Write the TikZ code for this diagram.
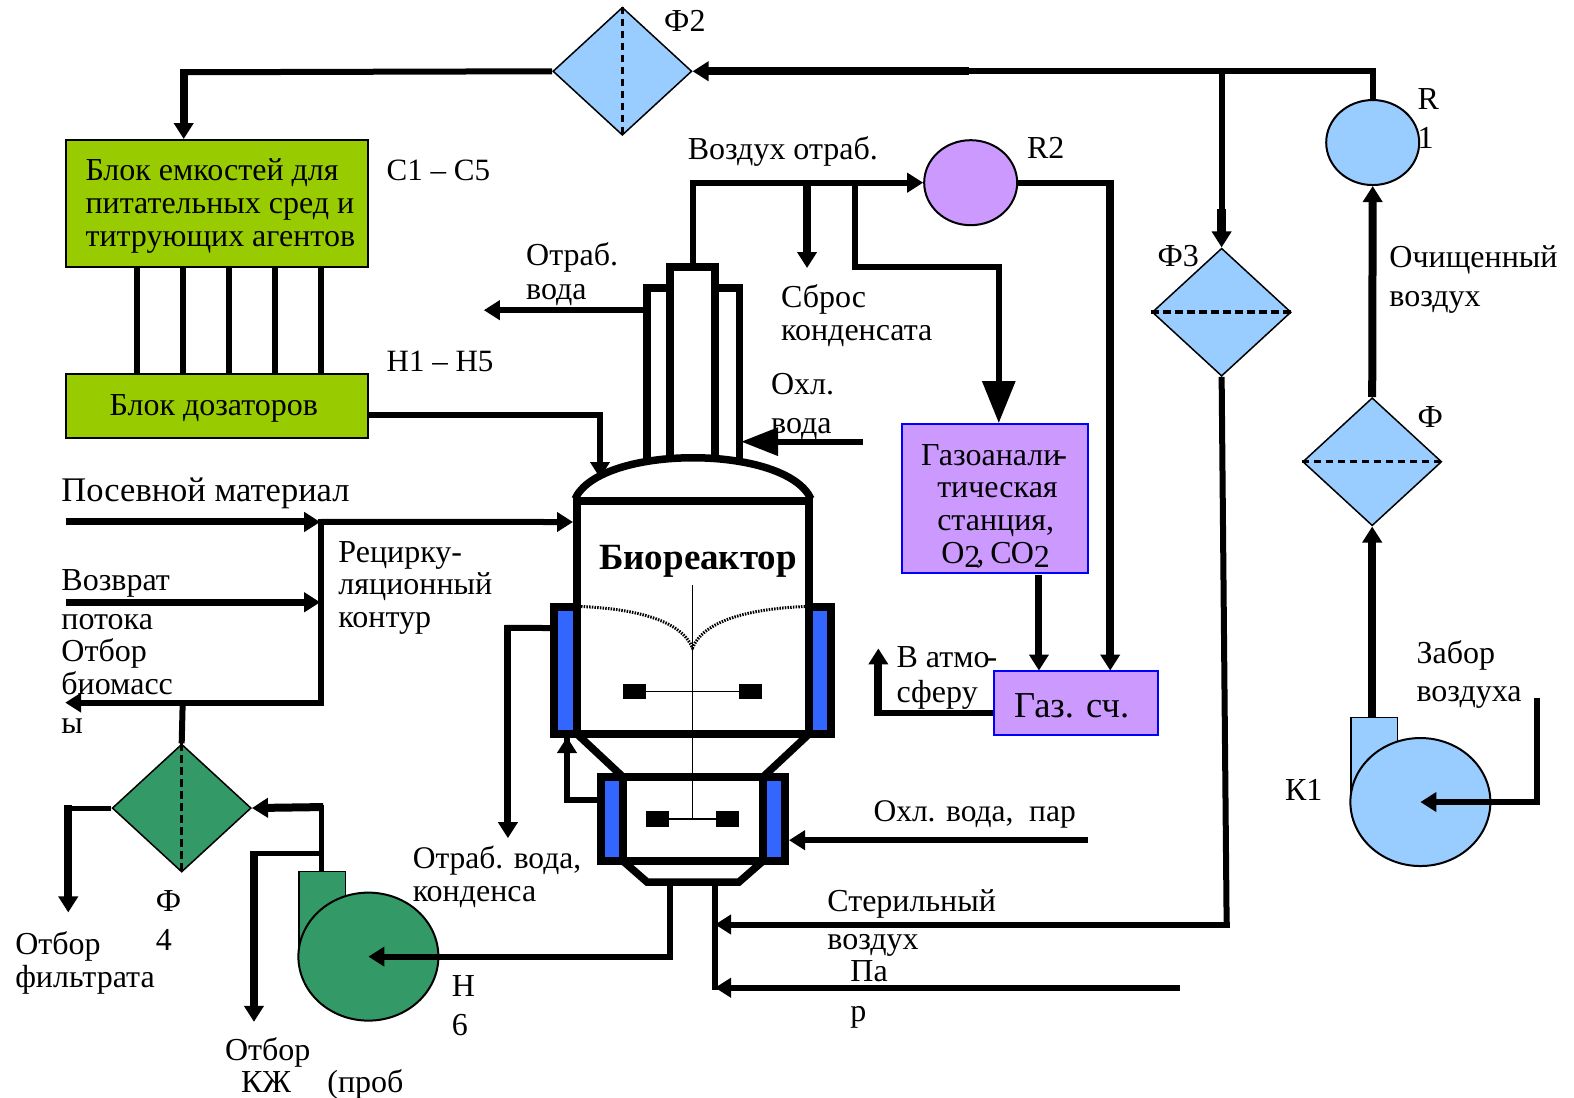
\documentclass[tikz,border=0pt]{standalone}
\usepackage{fontspec}
\setmainfont{Liberation Serif}
\usetikzlibrary{arrows.meta,shapes.geometric,calc}
\definecolor{filt}{HTML}{99CCFF}
\definecolor{grn}{HTML}{339966}
\definecolor{lime}{HTML}{99CC00}
\definecolor{purp}{HTML}{CC99FF}
\definecolor{jack}{HTML}{3366FF}
\tikzset{
 dia/.style={diamond,draw=black,line width=1.5pt,minimum width=139pt,minimum height=128pt,inner sep=0pt,aspect=1.1},
 orb/.style={ellipse,draw=black,line width=2pt,inner sep=0pt},
 pipe/.style={line width=6pt},
 fatpipe/.style={line width=8pt},
 tip/.style={-{Triangle[width=19pt,length=16pt]}},
 bigtip/.style={-{Triangle[width=32pt,length=42pt]}},
 sep/.style={line width=3.5pt,dash pattern=on 7.5pt off 4.5pt},
 lab/.style={anchor=base west,inner sep=0pt,font=\fontsize{32}{33}\selectfont},
 sbox/.style={draw=black,line width=2pt,fill=lime,inner sep=0pt,anchor=north west},
 gbox/.style={draw=blue,line width=2pt,fill=purp,inner sep=0pt,anchor=north west},
 wall/.style={line width=7.5pt,line cap=butt,line join=miter},
 jacket/.style={draw=black,line width=7.5pt,fill=jack},
 blade/.style={fill=black,draw=none},
 shaft/.style={line width=1.6pt},
}
\newcommand{\subtwo}{\raisebox{-4pt}{2}}
\begin{document}
\begin{tikzpicture}[x=1.0038pt,y=-1.0038pt]
\useasboundingbox (0,0) rectangle (1568.04,1093.84);
% ---- equipment
\node[dia,fill=filt] (F2) at (620,71) {};
\node[dia,fill=filt] (F3) at (1217,311) {};
\node[dia,fill=filt] (F1) at (1367,460) {};
\node[dia,fill=grn] (F4) at (181,805) {};
\draw[sep] (F2.north)--(F2.south);
\draw[sep] (F3.west)--(F3.east);
\draw[sep] (F1.west)--(F1.east);
\draw[sep] (F4.north)--(F4.south);
\node[orb,fill=purp,minimum width=93pt,minimum height=85pt] (R2) at (967,182) {};
\node[orb,fill=filt,minimum width=93pt,minimum height=85pt] (R1) at (1367.5,142) {};
\node[sbox,minimum width=302pt,minimum height=127pt] (tanks) at (65.2,138.5) {};
\node[sbox,minimum width=302pt,minimum height=64pt] (dos) at (65.2,371.5) {};
\node[gbox,minimum width=186pt,minimum height=149pt] (gas) at (897.3,421.5) {};
\node[gbox,minimum width=164pt,minimum height=64pt] (cnt) at (989,667) {};
% pumps
\draw[fill=filt,line width=1.5pt] (1346,715) rectangle (1392,800);
\node[orb,fill=filt,minimum width=140pt,minimum height=128pt] (K1) at (1415,799) {};
\draw[fill=grn,line width=1.5pt] (298,868) rectangle (344,953);
\node[orb,fill=grn,minimum width=140pt,minimum height=128pt] (H6) at (367,953) {};
\coordinate (K1duct) at (1367,715);
\coordinate (H6duct) at (320,868);
% ---- reactor (true pixel coordinates)
\begin{scope}[x=1pt,y=-1pt]
\draw[jacket] (554,607) rectangle (577,734);
\draw[jacket] (809,607) rectangle (831,734);
\draw[jacket] (601,777) rectangle (623,861);
\draw[jacket] (763,777) rectangle (785,861);
\draw[wall] (647,460) |- (670,288) (715,288) -| (739.5,460);
\draw[wall] (670,460) |- (692,267) -| (715,460);
\draw[wall] (577,501) rectangle (809,734);
\draw[wall] (623,777) -- (763,777);
\draw[wall] (623,861) -- (763,861);
\draw[wall] (577,734) -- (623,777);
\draw[wall] (809,734) -- (763,777);
\draw[wall] (623,861) -- (647,882) -- (739,882) -- (763,861);
\draw[wall] (575,499) .. controls (600,444) and (786,444) .. (811,499);
\coordinate (reactorL) at (573,522);
\coordinate (domeL) at (600,478);
\coordinate (jacketLT) at (550,628);
\coordinate (jacketLB) at (567,737);
\coordinate (jacketLL) at (597,800);
\coordinate (jacketRL) at (789,840);
\coordinate (condR) at (741,442);
\coordinate (condL) at (643,310);
\coordinate (condT) at (693,265);
\coordinate (pipeA) at (670,884);
\coordinate (pipeB) at (715,884);
% agitator
\draw[shaft] (692.5,585) -- (692.5,819);
\draw[shaft] (635,691.5) -- (750,691.5);
\draw[shaft] (657,819) -- (727,819);
\fill[blade] (623,684) rectangle (646,699);
\fill[blade] (739,684) rectangle (762,699);
\fill[blade] (646,811) rectangle (669,827);
\fill[blade] (716,811) rectangle (739,827);
\draw[line width=3pt,dash pattern=on 1.5pt off 1.2pt] (581,606.5) .. controls (640,609) and (682,622) .. (692.5,648) .. controls (703,622) and (745,609) .. (805,606.5);
\end{scope}
% ---- connectors
\draw[pipe] (R1.north) |- (965,71);
\draw[fatpipe,tip] (965,71) -- (F2.east);
\draw[pipe] (1217,71) -- (1217,208);
\draw[line width=9pt,tip] (1217,208) -- (F3.north);
\draw[pipe] (F2.west) -- (180,72);
\draw[fatpipe,tip] (183,69) -- (tanks.north -| 183,0);
\draw[pipe] (F3.south) -- (1222,921);
\draw[pipe,tip] (1225,921) -- (pipeB |- 0,921);
\draw[fatpipe,tip] (F1.north) -- (R1.south);
\draw[fatpipe,tip] (K1duct) -- (F1.south);
\coordinate (intake) at (1531,695);
\draw[pipe] (intake) -- (1531,802);
\draw[pipe,tip] (1531,799) -- (K1.center);
\foreach \x in {136,182,228,274,320} \draw[pipe] (\x,266) -- (\x,372);
\draw[pipe,tip] (dos.east |- 0,413) -| (domeL);
\coordinate (seed) at (66,520);
\coordinate (ret) at (66,600);
\draw[pipe,tip] (320,520) -- (reactorL);
\draw[line width=7pt,tip] (seed) -- (319,520);
\draw[line width=7pt,tip] (ret) -- (319,600);
\draw[pipe] (320,517) -- (320,700);
\draw[pipe,tip] (323,700) -- (65,700);
\draw[pipe] (182,700) -- (F4.north);
\coordinate (filtr) at (68,909);
\draw[line width=5pt] (F4.west) -- (66,805);
\draw[fatpipe,tip] (68,802) -- (filtr);
\draw[line width=5pt] (H6duct) -- (320,802);
\draw[fatpipe,tip] (322,804) -- (F4.east);
\coordinate (sample) at (253,1018);
\draw[line width=5pt] (320,850) -- (250,850);
\draw[line width=7.5pt,tip] (253,848) -- (sample);
\draw[pipe] (pipeA) -- (pipeA |- H6.center);
\draw[pipe,tip] ($(pipeA |- H6.center)+(3,0)$) -- (H6.center);
\draw[pipe] (pipeB) -- (pipeB |- 0,986);
\coordinate (steam) at (1176,984);
\draw[pipe,tip] (steam) -- (pipeB |- steam);
\coordinate (cool) at (1084,837);
\draw[pipe,tip] (cool) -- (jacketRL |- cool);
\coordinate (cool2) at (860,440);
\draw[pipe,-{Triangle[width=27pt,length=37pt]}] (cool2) -- (condR |- cool2);
\coordinate (wasteW) at (482,309);
\draw[pipe,tip] (condL |- wasteW) -- (wasteW);
\draw[pipe,line join=miter] (condT) |- (880,182);
\draw[pipe,tip] (870,182) -- (R2.west);
\coordinate (dropC) at (804,267);
\draw[fatpipe,tip] (804,182) -- (dropC);
\draw[pipe] (852,182) |- (998,266);
\draw[pipe,bigtip] (995,263) -- (gas.north -| 995,0);
\draw[pipe] (R2.east) -- (1109,182);
\draw[fatpipe,tip] (1106,179) -- (1106,668);
\draw[line width=7pt,tip] (1035,573) -- (1035,668);
\coordinate (atm) at (875,646);
\draw[pipe] (cnt.west |- 0,710) -- (872,710);
\draw[fatpipe,tip] (875,713) -- (atm);
\draw[pipe] (jacketLT) -- (503,625.6);
\draw[line width=7pt,tip] (506,622.6) -- (506,835);
\draw[pipe] (jacketLL) -| (jacketLB);
\draw[pipe,tip] (jacketLL -| jacketLB) -- (jacketLB);
% ---- labels
\begin{scope}[xshift=-1pt]
\node[lab] at (662.5,31) {Ф2};
\node[lab] at (686,159) {Воздух отраб.};
\node[lab] at (1024,158) {R2};
\node[lab] at (1413,109) {R};
\node[lab] at (1413,148) {1};
\node[lab] at (86,180) {Блок емкостей для};
\node[lab] at (86,213) {питательных сред и};
\node[lab] at (86,246) {титрующих агентов};
\node[lab,font=\fontsize{31}{33}\selectfont] at (386,180) {С1 – С5};
\node[lab,font=\fontsize{31}{33}\selectfont] at (386,370) {Н1 – Н5};
\node[lab] at (110,414) {Блок дозаторов};
\node[lab] at (525,264) {Отраб.};
\node[lab] at (525,298) {вода};
\node[lab] at (779,306) {Сброс};
\node[lab] at (779,339) {конденсата};
\node[lab] at (769,393) {Охл.};
\node[lab] at (769,432) {вода};
\node[lab] at (1154,265) {Ф3};
\node[lab] at (1385,266) {Очищенный};
\node[lab] at (1385,305) {воздух};
\node[lab] at (1413,426) {Ф};
\node[lab] at (918.5,464) {Газоанали\kern-4pt-};
\node[lab] at (934.5,496) {тическая};
\node[lab] at (934.5,528) {станция,};
\node[lab] at (938.5,561) {O\subtwo\kern-4pt,\kern-2pt{} C\kern-1pt O\subtwo};
\node[lab,font=\fontsize{34.5}{36}\selectfont] at (62,500) {Посевной материал};
\node[lab] at (62,588) {Возврат};
\node[lab] at (62,627) {потока};
\node[lab] at (62,659) {Отбор};
\node[lab] at (62,692) {биомасс};
\node[lab] at (62,731) {ы};
\node[lab] at (338,560) {Рецирку-};
\node[lab] at (338,592) {ляционный};
\node[lab] at (338,625) {контур};
\node[lab,font=\fontsize{37}{37}\selectfont\bfseries] at (597.7,567) {Биореактор};
\node[lab] at (894,665) {В атмо\kern-3pt-};
\node[lab] at (894,700) {сферу};
\node[lab,font=\fontsize{36.5}{37}\selectfont] at (1011,715) {Газ. сч.};
\node[lab] at (1412,661) {Забор};
\node[lab] at (1412,699) {воздуха};
\node[lab] at (1281,797) {К1};
\node[lab,font=\fontsize{31.5}{33}\selectfont] at (871,818) {Охл. вода,\ \ пар};
\node[lab,font=\fontsize{31.5}{33}\selectfont] at (412,865) {Отраб. вода,};
\node[lab] at (412,898) {конденса};
\node[lab] at (825,908) {Стерильный};
\node[lab] at (825,946) {воздух};
\node[lab] at (848,978) {Па};
\node[lab] at (848,1018) {р};
\node[lab] at (156,908) {Ф};
\node[lab] at (156,947) {4};
\node[lab] at (16,951) {Отбор};
\node[lab] at (16,984) {фильтрата};
\node[lab] at (451,993) {Н};
\node[lab] at (451,1032) {6};
\node[lab] at (225,1056) {Отбор};
\node[lab] at (241,1088) {КЖ};
\node[lab] at (327,1088) {(проб};
\end{scope}
\end{tikzpicture}
\end{document}
